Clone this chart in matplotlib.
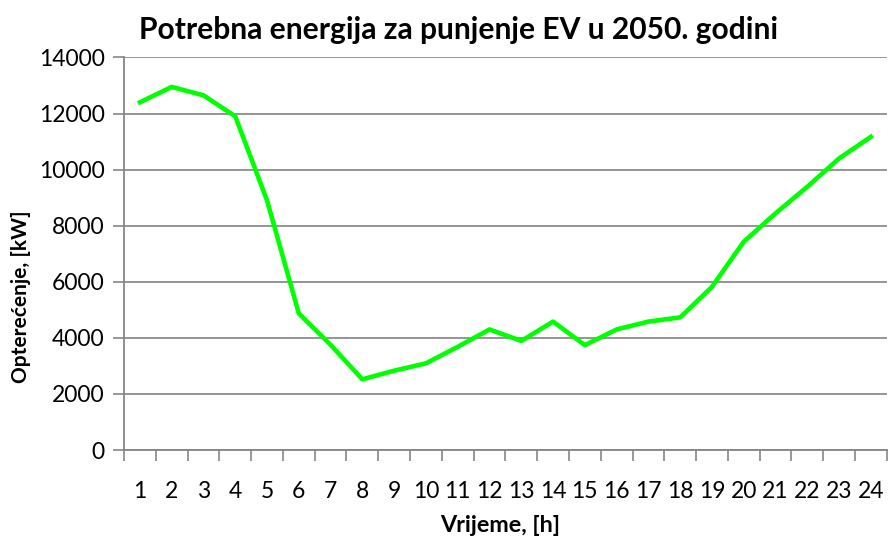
import matplotlib
matplotlib.use("Agg")
import matplotlib.pyplot as plt
from matplotlib.ticker import FixedLocator, NullFormatter, FixedFormatter

hours = list(range(1, 25))
load_kw = [12400, 12950, 12650, 11900, 8900, 4870, 3750, 2520, 2830, 3090,
           3680, 4300, 3890, 4580, 3740, 4300, 4580, 4730, 5820, 7430,
           8440, 9390, 10400, 11170]
y_ticks = [0, 2000, 4000, 6000, 8000, 10000, 12000, 14000]

plt.rcParams['font.family'] = ['Lato', 'DejaVu Sans']

fig = plt.figure(figsize=(8.89, 5.37), dpi=100)
ax = fig.add_axes([0.1395, 0.162, 0.858, 0.731])

ax.plot(hours, load_kw, color="#00ff00", linewidth=3.3, solid_joinstyle="round")

ax.set_xlim(0.5, 24.5)
ax.set_ylim(0, 14000)
ax.set_yticks(y_ticks)
ax.set_yticklabels([str(v) for v in y_ticks], fontsize=16.5)
ax.yaxis.grid(True, color="#8c8c8c", linewidth=1.3)
ax.set_axisbelow(True)

# ticks between categories, labels at category centres
ax.xaxis.set_major_locator(FixedLocator([h + 0.5 for h in range(0, 25)]))
ax.xaxis.set_major_formatter(NullFormatter())
ax.xaxis.set_minor_locator(FixedLocator(hours))
ax.xaxis.set_minor_formatter(FixedFormatter([str(h) for h in hours]))
ax.tick_params(axis="x", which="major", length=8, color="#868686", width=1.2)
ax.tick_params(axis="x", which="minor", length=0, labelsize=16.5, pad=22)
ax.tick_params(axis="y", length=8, color="#868686", width=1.2, pad=6)

for s in ["top", "right"]:
    ax.spines[s].set_visible(False)
for s in ["left", "bottom"]:
    ax.spines[s].set_color("#868686")
    ax.spines[s].set_linewidth(1.3)

fig.text(0.516, 0.944, "Potrebna energija za punjenje EV u 2050. godini",
         ha="center", va="center", fontsize=21.6, fontweight="bold")
fig.text(0.5625, 0.022, "Vrijeme, [h]", ha="center", va="center",
         fontsize=16.8, fontweight="bold")
fig.text(0.024, 0.447, "Opterećenje, [kW]", ha="center", va="center",
         rotation=90, fontsize=15, fontweight="bold")

fig.savefig("out.png", dpi=100)
